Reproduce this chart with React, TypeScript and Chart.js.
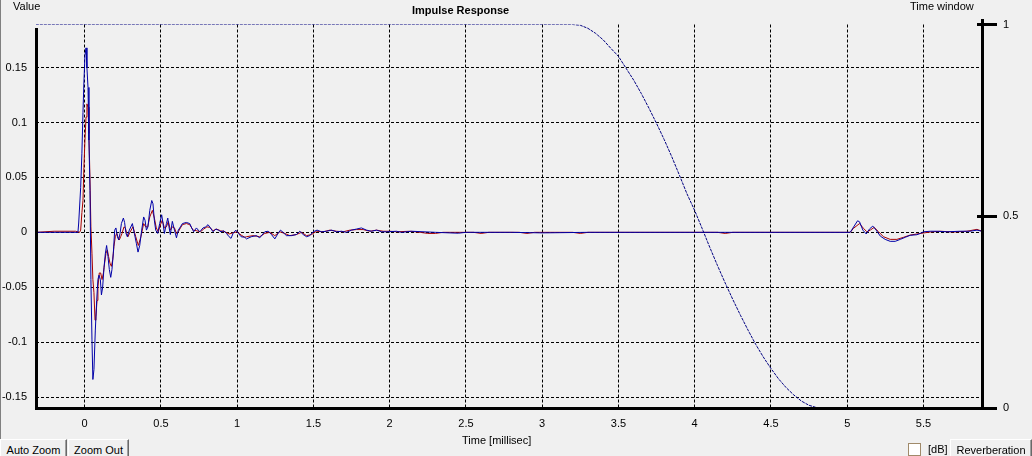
import React, { useEffect, useRef } from 'react';
import { Chart, registerables } from 'chart.js';

Chart.register(...registerables);

// ---- Data ----
const xTicks = [0, 0.5, 1, 1.5, 2, 2.5, 3, 3.5, 4, 4.5, 5, 5.5];
const xTickLabels = ['0', '0.5', '1', '1.5', '2', '2.5', '3', '3.5', '4', '4.5', '5', '5.5'];
const yTicks = [-0.15, -0.1, -0.05, 0, 0.05, 0.1, 0.15];
const yTickLabels = ['-0.15', '-0.1', '-0.05', '0', '0.05', '0.1', '0.15'];
const y2Ticks = [0, 0.5, 1];
const y2TickLabels = ['0', '0.5', '1'];

// Blue channel impulse response: time [ms], value
const blueT = [
  -0.32, -0.044, -0.039, -0.026, -0.018, -0.011, -0.005, 0.002, 0.009, 0.015, 0.022, 0.028, 0.035, 0.041,
  0.048, 0.054, 0.061, 0.07, 0.079, 0.087, 0.094, 0.103, 0.11, 0.118, 0.127, 0.136, 0.144, 0.153, 0.162,
  0.171, 0.179, 0.188, 0.197, 0.205, 0.215, 0.223, 0.232, 0.241, 0.254, 0.262, 0.271, 0.28, 0.293, 0.313,
  0.326, 0.339, 0.35, 0.361, 0.374, 0.387, 0.396, 0.405, 0.415, 0.427, 0.44, 0.448, 0.457, 0.466, 0.479,
  0.492, 0.505, 0.514, 0.523, 0.536, 0.545, 0.553, 0.562, 0.575, 0.589, 0.602, 0.614, 0.628, 0.641, 0.667,
  0.689, 0.702, 0.715, 0.733, 0.755, 0.776, 0.794, 0.809, 0.825, 0.842, 0.86, 0.877, 0.894, 0.912, 0.93,
  0.947, 0.96, 0.973, 0.991, 1.009, 1.026, 1.05, 1.061, 1.093, 1.126, 1.148, 1.181, 1.203, 1.225, 1.247,
  1.268, 1.284, 1.301, 1.323, 1.356, 1.389, 1.411, 1.433, 1.455, 1.476, 1.498, 1.524, 1.553, 1.586, 1.619,
  1.652, 1.684, 1.717, 1.75, 1.783, 1.815, 1.848, 1.881, 1.914, 1.947, 1.98, 2.045, 2.078, 2.144, 2.3,
  2.45, 2.5, 2.8, 3.0, 3.3, 4.0, 5.02, 5.068, 5.081, 5.103, 5.125, 5.146, 5.168, 5.19, 5.217, 5.249, 5.282,
  5.315, 5.348, 5.381, 5.413, 5.457, 5.479, 5.501, 5.545, 5.589, 5.654, 5.741, 5.807, 5.851, 5.884,
];
const blueV = [
  0, 0, 0.0085, 0.041, 0.072, 0.109, 0.136, 0.161, 0.168, 0.15, 0.132, 0.084, 0.038, -0.043,
  -0.098, -0.134, -0.125, -0.089, -0.062, -0.043, -0.039, -0.043, -0.057, -0.05, -0.032, -0.019, -0.012, -0.022, -0.034,
  -0.041, -0.034, -0.019, 0.002, 0.004, -0.004, -0.007, -0.001, 0.008, 0.013, 0.009, -0.001, -0.004, 0.002, 0.008,
  -0.001, -0.01, -0.018, -0.012, 0.002, 0.014, 0.011, 0.002, 0.005, 0.02, 0.029, 0.026, 0.011, 0.002, -0.001,
  0.008, 0.016, 0.008, -0.001, 0.008, 0.013, 0.005, -0.002, 0.01, 0.002, -0.005, 0.002, 0.005, 0.008, 0.009,
  0.008, 0.004, 0.0005, 0.004, 0.0005, 0.004, 0.005, 0.007, 0.004, 0.0005, 0.003, 0.002, 0.0005, 0.0015, -0.001,
  -0.004, -0.0055, -0.001, 0.002, -0.001, -0.004, -0.0045, -0.006, -0.004, -0.003, -0.005, 0.0005, 0.001, -0.002, -0.006,
  -0.001, 0.002, 0, -0.003, -0.003, -0.002, 0.001, -0.002, -0.004, -0.003, 0.0005, 0.002, 0.0005, 0.001, 0.002,
  0.0005, 0.001, 0, 0.002, 0.003, 0.004, 0.002, 0.001, 0.002, 0.0005, 0.0005, 0.001, 0, 0.001, 0,
  -0.0008, 0, 0, -0.0005, 0, 0, 0, 0.0105, 0.0096, 0.002, -0.0015, 0.003, 0.0057, 0.002, -0.0034, -0.0064, -0.0082,
  -0.0082, -0.0064, -0.0045, -0.0027, -0.0022, -0.001, 0.0005, 0.001, 0.001, 0.0005, 0.001, 0.001, 0.002, 0.001,
];

// Red channel impulse response: time [ms], value
const redT = [
  -0.32, -0.2, -0.06, -0.033, -0.026, -0.018, -0.011, -0.005, 0.002, 0.009, 0.015, 0.022, 0.028, 0.035,
  0.041, 0.048, 0.054, 0.061, 0.068, 0.074, 0.081, 0.087, 0.096, 0.105, 0.114, 0.123, 0.131, 0.14, 0.149,
  0.157, 0.166, 0.175, 0.184, 0.192, 0.201, 0.21, 0.218, 0.227, 0.236, 0.245, 0.258, 0.267, 0.276, 0.284,
  0.297, 0.317, 0.335, 0.352, 0.369, 0.387, 0.4, 0.413, 0.427, 0.444, 0.457, 0.47, 0.483, 0.497, 0.509,
  0.523, 0.536, 0.549, 0.562, 0.575, 0.589, 0.602, 0.614, 0.628, 0.641, 0.667, 0.689, 0.711, 0.733, 0.759,
  0.781, 0.802, 0.82, 0.842, 0.864, 0.89, 0.919, 0.947, 0.973, 0.999, 1.026, 1.05, 1.061, 1.104, 1.148,
  1.181, 1.214, 1.247, 1.28, 1.312, 1.345, 1.389, 1.422, 1.455, 1.488, 1.52, 1.564, 1.608, 1.652, 1.695,
  1.739, 1.783, 1.826, 1.87, 1.914, 1.957, 2.001, 2.045, 2.133, 2.2, 2.25, 2.3, 2.35, 2.55, 2.6, 2.65,
  2.85, 2.9, 2.95, 3.2, 3.25, 3.3, 4.15, 4.2, 4.25, 5.02, 5.041, 5.081, 5.107, 5.129, 5.151, 5.177, 5.206,
  5.238, 5.282, 5.326, 5.37, 5.413, 5.457, 5.501, 5.545, 5.61, 5.697, 5.785, 5.851, 5.884,
];
const redV = [
  0, 0.001, 0.001, 0, 0.002, 0.018, 0.029, 0.059, 0.084, 0.105, 0.117, 0.114, 0.09, 0.048,
  0.005, -0.019, -0.043, -0.055, -0.08, -0.077, -0.062, -0.05, -0.037, -0.037, -0.043, -0.037, -0.028, -0.019, -0.016,
  -0.022, -0.028, -0.031, -0.025, -0.013, -0.004, -0.001, -0.004, -0.007, -0.004, -0.001, 0.005, 0.004, -0.001, -0.004,
  0, 0.005, -0.004, -0.012, -0.004, 0.008, 0.005, 0.005, 0.014, 0.02, 0.013, 0.004, 0.0005, 0.007, 0.011,
  0.004, 0.005, 0.01, 0.002, 0.005, 0.004, -0.001, 0.0005, 0.004, 0.007, 0.008, 0.007, 0.002, 0.0015, 0.0005,
  0.003, 0.005, 0.0045, 0.0015, 0.003, 0.0015, 0.0005, -0.0015, -0.0005, 0.0005, -0.0025, -0.0045, -0.004, -0.003, -0.004,
  -0.001, 0, -0.003, 0.0005, -0.001, -0.003, -0.002, 0, -0.003, -0.002, 0.001, 0.0005, 0.002, 0.001, 0.0005,
  0.002, 0.0025, 0.0025, 0.001, 0.002, 0.001, 0.001, 0.0005, 0.001, 0, -0.001, -0.001, 0, 0, -0.001, 0,
  0, -0.001, 0, 0, -0.001, 0, 0, -0.001, 0, 0, 0.0036, 0.008, 0.0036, 0.0005, 0.002, 0.0045, 0.0005,
  -0.004, -0.0064, -0.0064, -0.0045, -0.0025, -0.0015, -0.0006, 0.0003, 0.001, 0.0003, 0.001, 0.0027, 0.001,
];

// Time window (right axis): time [ms], value
const windowT = [
  -0.32, 3.2, 3.25, 3.3, 3.35, 3.4, 3.45, 3.5, 3.55, 3.6, 3.65, 3.7, 3.75, 3.8, 3.85, 3.9, 3.95, 4.0,
  4.05, 4.1, 4.15, 4.2, 4.25, 4.3, 4.35, 4.4, 4.45, 4.5, 4.55, 4.6, 4.65, 4.7, 4.75, 4.8, 4.83, 5.884,
];
const windowV = [
  1, 1, 0.998, 0.99, 0.977, 0.96, 0.938, 0.917, 0.886, 0.855, 0.82, 0.782, 0.742, 0.7, 0.655, 0.607, 0.558, 0.515,
  0.467, 0.418, 0.371, 0.326, 0.283, 0.242, 0.203, 0.166, 0.133, 0.103, 0.076, 0.053, 0.034, 0.018, 0.007, 0.001, 0, 0,
];

const FONT = '"Liberation Sans", Arial, sans-serif';

const labelFor = (vals: number[], labels: string[]) => (v: number | string) => {
  const n = Number(v);
  const i = vals.findIndex((t) => Math.abs(t - n) < 1e-9);
  return i >= 0 ? labels[i] : '';
};

const overlayPlugin = {
  id: 'overlay',
  afterDraw(chart: any) {
    const { ctx, chartArea: a } = chart;
    const ys = chart.scales.y2;
    const left = Math.round(a.left);
    const right = Math.round(a.right);
    const bottom = Math.round(a.bottom);
    ctx.save();
    ctx.strokeStyle = '#000';
    ctx.lineWidth = 3;
    ctx.beginPath();
    // left axis
    ctx.moveTo(left + 0.5, 28);
    ctx.lineTo(left + 0.5, bottom + 2);
    // bottom axis
    ctx.moveTo(left - 1, bottom + 0.5);
    ctx.lineTo(right + 15, bottom + 0.5);
    // right axis
    ctx.moveTo(right + 0.5, 19);
    ctx.lineTo(right + 0.5, bottom + 2);
    // right axis tick marks
    [0.5, 1].forEach((v) => {
      const py = Math.floor(ys.getPixelForValue(v)) + 0.5;
      ctx.moveTo(right - 5, py);
      ctx.lineTo(right + 15, py);
    });
    ctx.stroke();

    ctx.fillStyle = '#000';
    ctx.textBaseline = 'middle';
    ctx.textAlign = 'left';
    ctx.font = `11px ${FONT}`;
    ctx.fillText('Value', 13, 7);
    ctx.fillText('Time window', 910, 7);
    ctx.fillText('Time [millisec]', 462, 441);
    ctx.font = `bold 11px ${FONT}`;
    ctx.fillText('Impulse Response', 412, 11);
    ctx.restore();
  },
};

export default function App() {
  const ref = useRef<HTMLCanvasElement | null>(null);

  useEffect(() => {
    if (!ref.current) return;
    const tickFont = { family: FONT, size: 11 };
    const chart = new Chart(ref.current, {
      type: 'line',
      data: {
        datasets: [
          {
            label: 'Time window',
            data: windowT.map((t, i) => ({ x: t, y: windowV[i] })),
            yAxisID: 'y2',
            borderColor: '#000080',
            borderWidth: 1,
            borderDash: [3, 1],
            pointRadius: 0,
            tension: 0,
          },
          {
            label: 'Blue',
            data: blueT.map((t, i) => ({ x: t, y: blueV[i] })),
            yAxisID: 'y',
            borderColor: '#0000a8',
            borderWidth: 1,
            pointRadius: 0,
            tension: 0,
          },
          {
            label: 'Red',
            data: redT.map((t, i) => ({ x: t, y: redV[i] })),
            yAxisID: 'y',
            borderColor: '#a80000',
            borderWidth: 1,
            pointRadius: 0,
            tension: 0,
          },
        ],
      },
      options: {
        animation: false,
        responsive: true,
        maintainAspectRatio: false,
        layout: { padding: { top: 24.5, left: 0, right: 0, bottom: 0 } },
        plugins: { legend: { display: false }, tooltip: { enabled: false }, title: { display: false } },
        scales: {
          x: {
            type: 'linear',
            min: -0.319,
            max: 5.884,
            afterBuildTicks: (s: any) => {
              s.ticks = xTicks.map((v) => ({ value: v }));
            },
            afterFit: (s: any) => {
              s.height = 48;
              s.paddingLeft = 0;
              s.paddingRight = 0;
            },
            grid: { color: '#000', lineWidth: 1, drawTicks: false },
            border: { display: false, dash: [3, 2] },
            ticks: {
              padding: 9,
              color: '#000',
              font: tickFont,
              autoSkip: false,
              maxRotation: 0,
              callback: labelFor(xTicks, xTickLabels),
            },
          },
          y: {
            type: 'linear',
            position: 'left',
            min: -0.16,
            max: 0.1893,
            afterBuildTicks: (s: any) => {
              s.ticks = yTicks.map((v) => ({ value: v }));
            },
            afterFit: (s: any) => {
              s.width = 36;
              s.paddingTop = 0;
              s.paddingBottom = 0;
            },
            grid: { color: '#000', lineWidth: 1, drawTicks: false },
            border: { display: false, dash: [3, 2] },
            ticks: {
              padding: 9,
              color: '#000',
              font: tickFont,
              autoSkip: false,
              callback: labelFor(yTicks, yTickLabels),
            },
          },
          y2: {
            type: 'linear',
            position: 'right',
            min: 0,
            max: 1,
            afterBuildTicks: (s: any) => {
              s.ticks = y2Ticks.map((v) => ({ value: v }));
            },
            afterFit: (s: any) => {
              s.width = 50;
              s.paddingTop = 0;
              s.paddingBottom = 0;
            },
            grid: { drawOnChartArea: false, drawTicks: false },
            border: { display: false },
            ticks: {
              padding: 21,
              color: '#000',
              font: tickFont,
              autoSkip: false,
              callback: labelFor(y2Ticks, y2TickLabels),
            },
          },
        },
      },
      plugins: [overlayPlugin],
    } as any);
    return () => chart.destroy();
  }, []);

  const btnBase: React.CSSProperties = {
    position: 'absolute',
    top: 439,
    height: 20,
    boxSizing: 'border-box',
    background: '#f0f0f0',
    borderTop: '1px solid #ffffff',
    borderLeft: '1px solid #ffffff',
    borderRight: '1px solid #696969',
    borderBottom: '1px solid #696969',
    boxShadow: 'inset -1px -1px 0 #a0a0a0',
    font: `11px ${FONT}`,
    color: '#000',
    textAlign: 'center',
    lineHeight: '13px',
    paddingTop: 4,
    whiteSpace: 'nowrap',
  };

  return (
    <div
      style={{
        position: 'fixed',
        left: 0,
        top: 0,
        width: 1032,
        height: 456,
        background: '#f0f0f0',
        overflow: 'hidden',
      }}
    >
      <div style={{ position: 'absolute', left: 0, top: 0, width: 1032, height: 456 }}>
        <canvas ref={ref} />
      </div>
      <div style={{ position: 'absolute', left: 0, top: 0, width: 1, height: 456, background: '#808080' }} />
      <div style={{ ...btnBase, left: 0, width: 67 }}>Auto Zoom</div>
      <div style={{ ...btnBase, left: 68, width: 61 }}>Zoom Out</div>
      <div
        style={{
          position: 'absolute',
          left: 908,
          top: 443,
          width: 13,
          height: 13,
          boxSizing: 'border-box',
          border: '1px solid #a08a6a',
          background: '#ffffff',
        }}
      />
      <div style={{ position: 'absolute', left: 928, top: 443, font: `11px ${FONT}`, lineHeight: '13px', color: '#000' }}>
        [dB]
      </div>
      <div style={{ ...btnBase, left: 950, width: 82 }}>Reverberation</div>
    </div>
  );
}
